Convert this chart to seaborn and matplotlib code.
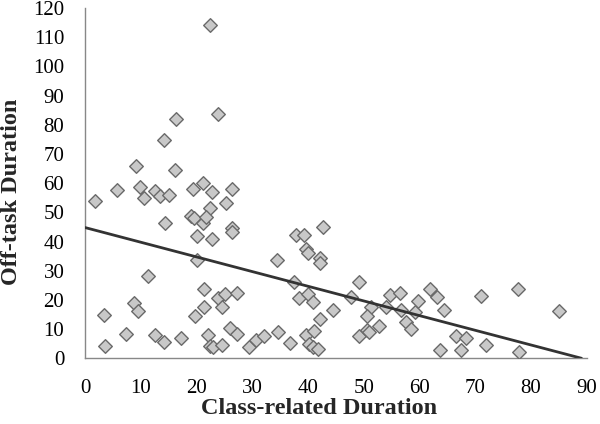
import numpy as np
import pandas as pd
import matplotlib
matplotlib.use("Agg")
import matplotlib.pyplot as plt
import seaborn as sns

# Datos (duración relacionada con la clase vs. fuera de tarea)
class_related = [
    22.4, 16.3, 14.1, 9.2, 16.2, 1.7, 5.7, 9.9, 10.5, 12.5,
    13.5, 15.0, 19.4, 21.1, 18.9, 19.6, 21.1, 14.3, 20.1, 20.1,
    11.2, 21.4, 8.7, 9.4, 3.4, 19.7, 21.4, 7.3, 12.5, 14.2,
    17.1, 3.6, 22.1, 22.4, 22.7, 26.4, 25.3, 22.4, 21.7, 26.3,
    26.3, 22.7, 34.4, 37.8, 39.3, 42.6, 39.6, 39.9, 42.1, 42.1,
    37.4, 23.8, 25.1, 27.3, 24.6, 38.4, 40.0, 40.9, 42.1, 25.9,
    27.2, 23.0, 24.6, 29.4, 30.6, 32.1, 34.6, 36.8, 39.6, 41.1,
    40.2, 40.8, 41.7, 49.1, 47.7, 44.4, 51.3, 50.6, 49.1, 50.6,
    51.0, 52.7, 54.6, 56.5, 54.0, 56.7, 57.5, 58.5, 59.1, 59.7,
    61.9, 63.2, 64.3, 63.6, 66.6, 67.5, 68.3, 71.0, 77.7, 85.0,
    71.9, 77.8, 23.8,
]
off_task = [
    114.3, 82.0, 74.8, 66.0, 64.5, 53.9, 57.7, 58.8, 55.0, 57.3,
    55.7, 55.9, 58.0, 60.0, 48.7, 47.9, 46.2, 46.2, 41.9, 33.6,
    28.1, 23.9, 19.1, 16.1, 15.0, 14.4, 17.4, 8.2, 7.9, 5.6,
    7.0, 4.2, 8.1, 4.2, 57.1, 58.0, 53.1, 51.4, 48.5, 44.5,
    43.1, 40.8, 33.6, 42.2, 42.2, 44.9, 37.6, 36.1, 34.2, 32.5,
    26.2, 20.5, 21.9, 22.4, 17.6, 20.5, 21.9, 19.3, 13.6, 10.5,
    8.2, 3.9, 4.5, 3.9, 6.2, 7.7, 9.0, 5.4, 7.9, 9.3,
    5.0, 3.9, 3.3, 26.2, 21.0, 16.5, 17.6, 14.5, 7.7, 9.6,
    9.0, 11.0, 21.6, 22.2, 17.6, 16.5, 12.5, 10.2, 15.9, 19.6,
    23.6, 21.0, 16.5, 3.0, 7.7, 3.0, 6.8, 21.3, 23.6, 16.1,
    4.5, 2.0, 83.6,
]
x_ticks = list(range(0, 91, 10))
y_ticks = list(range(0, 121, 10))

df = pd.DataFrame({"x": class_related, "y": off_task})

# Línea de tendencia lineal (como en Excel), extendida desde 0
slope, intercept = np.polyfit(df["x"], df["y"], 1)
x_end = min(90, -intercept / slope)
trend = pd.DataFrame({"x": [0, x_end]})
trend["y"] = intercept + slope * trend["x"]

sns.set_style("white")
plt.rcParams["font.family"] = ["Liberation Serif", "DejaVu Serif"]

fig = plt.figure(figsize=(6, 4.24), dpi=100)
ax = fig.add_axes([0.142, 0.155, 0.836, 0.826])

sns.scatterplot(data=df, x="x", y="y", marker="D", s=48, color="#c8c8c8",
                edgecolor="#6a6a6a", linewidth=1.0, ax=ax, zorder=3)
sns.lineplot(data=trend, x="x", y="y", color="#333333", linewidth=2.0, ax=ax, zorder=4)

ax.set_xlim(0, 90)
ax.set_ylim(0, 120)
ax.set_xticks(x_ticks)
ax.set_yticks(y_ticks)
ax.tick_params(axis="both", labelsize=15, colors="#888888", length=4.5, width=1,
               direction="out", labelcolor="black", pad=10.5)
for side in ["top", "right"]:
    ax.spines[side].set_visible(False)
for side in ["left", "bottom"]:
    ax.spines[side].set_color("#888888")
    ax.spines[side].set_linewidth(1)

ax.set_xlabel("Class-related Duration", fontsize=17.5, fontweight="bold")
ax.set_ylabel("Off-task Duration", fontsize=17.5, fontweight="bold")
ax.xaxis.label.set_va("center")
ax.yaxis.label.set_va("center")
ax.yaxis.label.set_ha("center")
ax.xaxis.set_label_coords(0.467, -0.143)
ax.yaxis.set_label_coords(-0.146, 0.474)

fig.savefig("out.png", dpi=100)
